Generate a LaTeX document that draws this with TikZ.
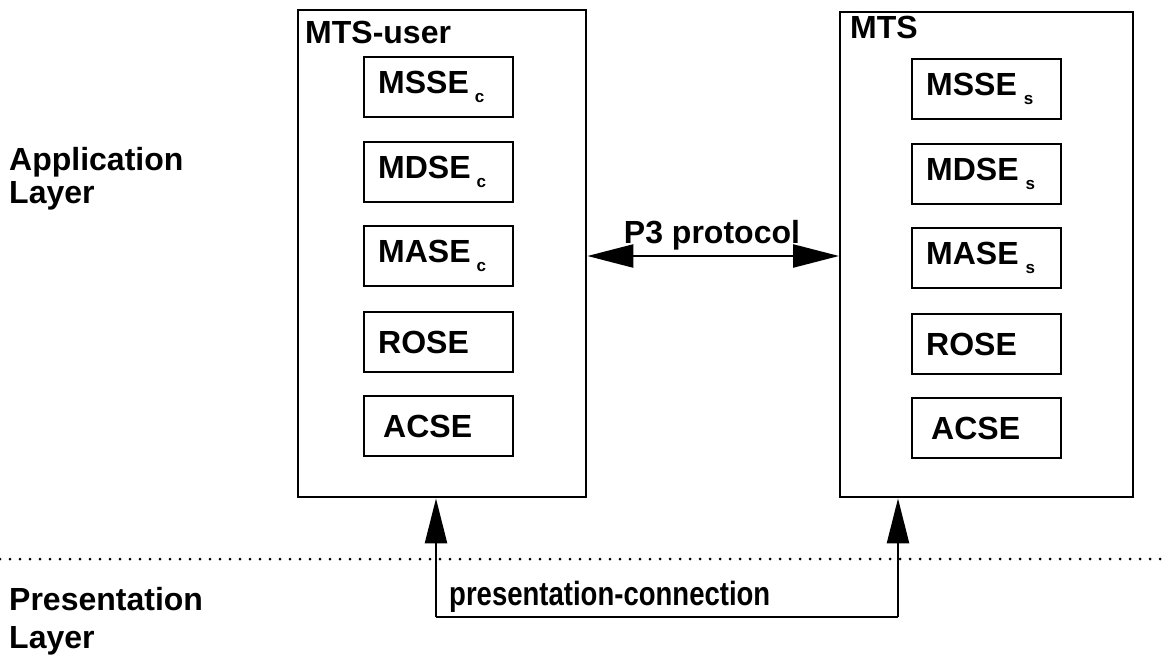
\documentclass[tikz,border=0pt]{standalone}
\usepackage{fontspec}
\setmainfont{Liberation Sans}
\usetikzlibrary{arrows.meta}
\newcommand\subsc[2]{\hspace{#1}\raisebox{-9pt}{\fontsize{17}{17}\selectfont #2}}
\begin{document}
\begin{tikzpicture}[x=1pt,y=-1pt,
  every node/.style={font=\bfseries\fontsize{32}{38}\selectfont},
  outer/.style={draw, line width=2.4pt, anchor=north west, inner sep=0pt},
  inbox/.style={draw, line width=2.4pt, anchor=north west, minimum height=60pt,
    text width=121pt, inner xsep=14pt, align=left},
  lbl/.style={anchor=base west, inner sep=0pt, align=left},
  arr/.style={line width=2.4pt, -{Triangle[length=45pt,width=22pt]}},
  darr/.style={line width=2.4pt, {Triangle[length=46pt,width=23pt]}-{Triangle[length=46pt,width=23pt]}}]
\useasboundingbox (0,0) rectangle (1168,664);
% layer labels
\node[lbl] (app) at (9,170) {Application};
\node[lbl] (appl) at (9,203) {Layer};
\node[lbl] (pres) at (9,610) {Presentation};
\node[lbl] (presl) at (9,648) {Layer};
% outer boxes
\node[outer, minimum width=288pt, minimum height=487pt] (user) at (297,9) {};
\node[outer, minimum width=293pt, minimum height=485pt] (mts) at (839,11) {};
\node[lbl] (userlbl) at (305,43) {MTS-user};
\node[lbl] (mtslbl) at (850,38) {MTS};
% left inner boxes
\node[inbox] (mssec) at (363,56) {MSSE\subsc{6pt}{c}};
\node[inbox] (mdsec) at (363,141) {MDSE\subsc{6pt}{c}};
\node[inbox] (masec) at (363,225) {MASE\subsc{6pt}{c}};
\node[inbox] (rosec) at (363,311) {ROSE};
\node[inbox, inner xsep=19pt, text width=111pt] (acsec) at (363,395) {ACSE};
% right inner boxes
\node[inbox] (msses) at (911,58) {MSSE\subsc{7pt}{s}};
\node[inbox] (mdses) at (911,143) {MDSE\subsc{7pt}{s}};
\node[inbox] (mases) at (911,227) {MASE\subsc{7pt}{s}};
\node[inbox] (roses) at (911,313) {ROSE};
\node[inbox, inner xsep=19pt, text width=111pt] (acses) at (911,397) {ACSE};
% P3 protocol
\coordinate (p3) at (712,256);
\draw[darr] (user.east |- p3) -- (mts.west |- p3);
\node[anchor=base, inner sep=0pt] (p3lbl) at (712,243) {P3 protocol};
% layer separator
\coordinate (dl) at (0,559);
\coordinate (dr) at (1168,559);
\draw[line width=3pt, line cap=round, dash pattern=on 0pt off 10pt] (dl) -- (dr);
% presentation connection
\coordinate (c1) at (436,617);
\coordinate (c2) at (898,617);
\draw[line width=2.4pt] (c1) -- (c2);
\draw[arr] (c1) -- (c1 |- user.south);
\draw[arr] (c2) -- (c2 |- mts.south);
\node[lbl] (pclbl) at (449,605) {\scalebox{0.86}[1.05]{presentation-connection}};
\end{tikzpicture}
\end{document}
